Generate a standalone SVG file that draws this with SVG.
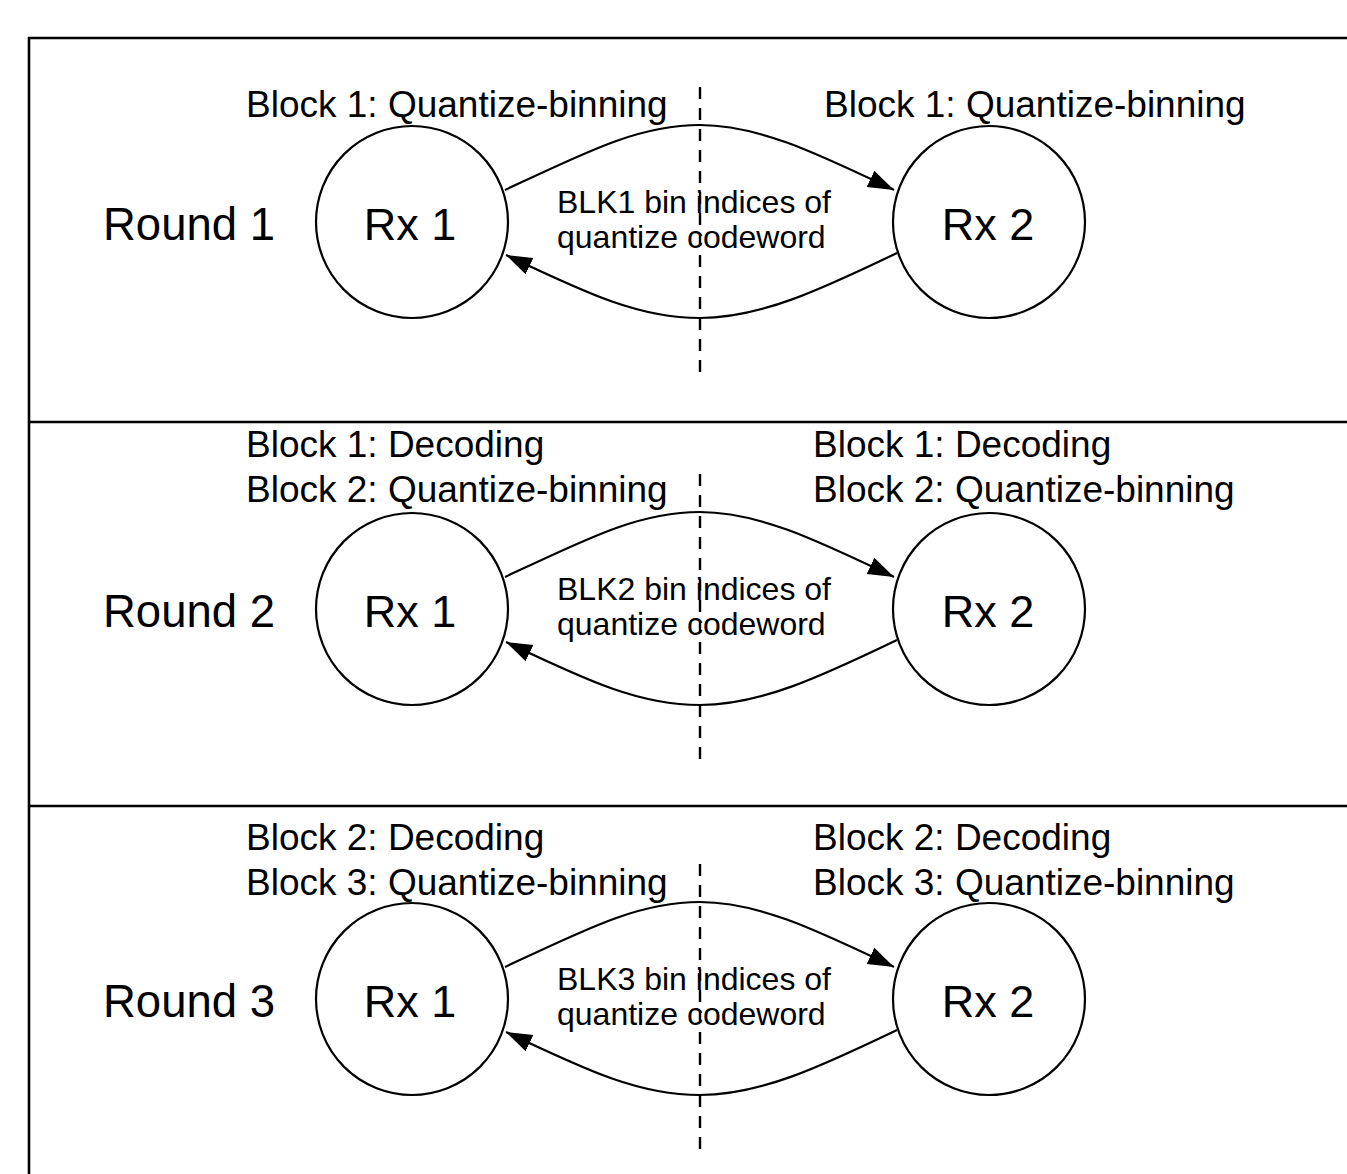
<svg xmlns="http://www.w3.org/2000/svg" width="1347" height="1174" viewBox="0 0 1347 1174">
<style>
.t{font-family:"Liberation Sans",Arial,Helvetica,sans-serif;fill:#000}
.blk{font-size:37px}
.rnd{font-size:45.5px}
.rx{font-size:45px;text-anchor:middle}
.lbl{font-size:32px}
.node{fill:#fff;stroke:#000;stroke-width:2.2}
.edge{fill:none;stroke:#000;stroke-width:2.2;marker-end:url(#ah)}
.dash{fill:none;stroke:#000;stroke-width:2.4;stroke-dasharray:12 9}
.frame{fill:none;stroke:#000;stroke-width:2.6}
</style>
<defs>
<marker id="ah" markerUnits="userSpaceOnUse" markerWidth="28" markerHeight="22" viewBox="0 0 28 22" refX="26" refY="11" orient="auto">
<path d="M0,2 L26,11 L0,20 Z" fill="#000"/>
</marker>
</defs>
<rect width="1347" height="1174" fill="#fff"/>
<g id="frame">
<path class="frame" d="M29,1174 L29,38 L1347,38 M29,422 L1347,422 M29,806 L1347,806"/>
</g>

<g id="round1">
<text class="t rnd" x="103" y="240">Round 1</text>
<text class="t blk" x="246" y="117">Block 1: Quantize-binning</text>
<text class="t blk" x="824" y="117">Block 1: Quantize-binning</text>
<g id="r1-rx1"><circle class="node" cx="412" cy="222" r="96"/><text class="t rx" x="410" y="240">Rx 1</text></g>
<g id="r1-rx2"><circle class="node" cx="989" cy="222" r="96"/><text class="t rx" x="988" y="240">Rx 2</text></g>
<path class="dash" d="M700,87 L700,375"/>
<g id="r1-connectors">
<path class="edge" d="M505,190 C590,150 640,125 700,125 C760,125 820,155 894,190"/>
<path class="edge" d="M897,253 C820,290 760,318 700,318 C640,318 590,295 506,255"/>
</g>
<text class="t lbl" x="557" y="213">BLK1 bin indices of</text>
<text class="t lbl" x="557" y="248">quantize codeword</text>
</g>

<g id="round2" transform="translate(0,387)">
<text class="t rnd" x="103" y="240">Round 2</text>
<text class="t blk" x="246" y="70">Block 1: Decoding</text>
<text class="t blk" x="246" y="115">Block 2: Quantize-binning</text>
<text class="t blk" x="813" y="70">Block 1: Decoding</text>
<text class="t blk" x="813" y="115">Block 2: Quantize-binning</text>
<g id="r2-rx1"><circle class="node" cx="412" cy="222" r="96"/><text class="t rx" x="410" y="240">Rx 1</text></g>
<g id="r2-rx2"><circle class="node" cx="989" cy="222" r="96"/><text class="t rx" x="988" y="240">Rx 2</text></g>
<path class="dash" d="M700,87 L700,375"/>
<g id="r2-connectors">
<path class="edge" d="M505,190 C590,150 640,125 700,125 C760,125 820,155 894,190"/>
<path class="edge" d="M897,253 C820,290 760,318 700,318 C640,318 590,295 506,255"/>
</g>
<text class="t lbl" x="557" y="213">BLK2 bin indices of</text>
<text class="t lbl" x="557" y="248">quantize codeword</text>
</g>

<g id="round3" transform="translate(0,777)">
<text class="t rnd" x="103" y="240">Round 3</text>
<text class="t blk" x="246" y="73">Block 2: Decoding</text>
<text class="t blk" x="246" y="118">Block 3: Quantize-binning</text>
<text class="t blk" x="813" y="73">Block 2: Decoding</text>
<text class="t blk" x="813" y="118">Block 3: Quantize-binning</text>
<g id="r3-rx1"><circle class="node" cx="412" cy="222" r="96"/><text class="t rx" x="410" y="240">Rx 1</text></g>
<g id="r3-rx2"><circle class="node" cx="989" cy="222" r="96"/><text class="t rx" x="988" y="240">Rx 2</text></g>
<path class="dash" d="M700,87 L700,375"/>
<g id="r3-connectors">
<path class="edge" d="M505,190 C590,150 640,125 700,125 C760,125 820,155 894,190"/>
<path class="edge" d="M897,253 C820,290 760,318 700,318 C640,318 590,295 506,255"/>
</g>
<text class="t lbl" x="557" y="213">BLK3 bin indices of</text>
<text class="t lbl" x="557" y="248">quantize codeword</text>
</g>
</svg>
